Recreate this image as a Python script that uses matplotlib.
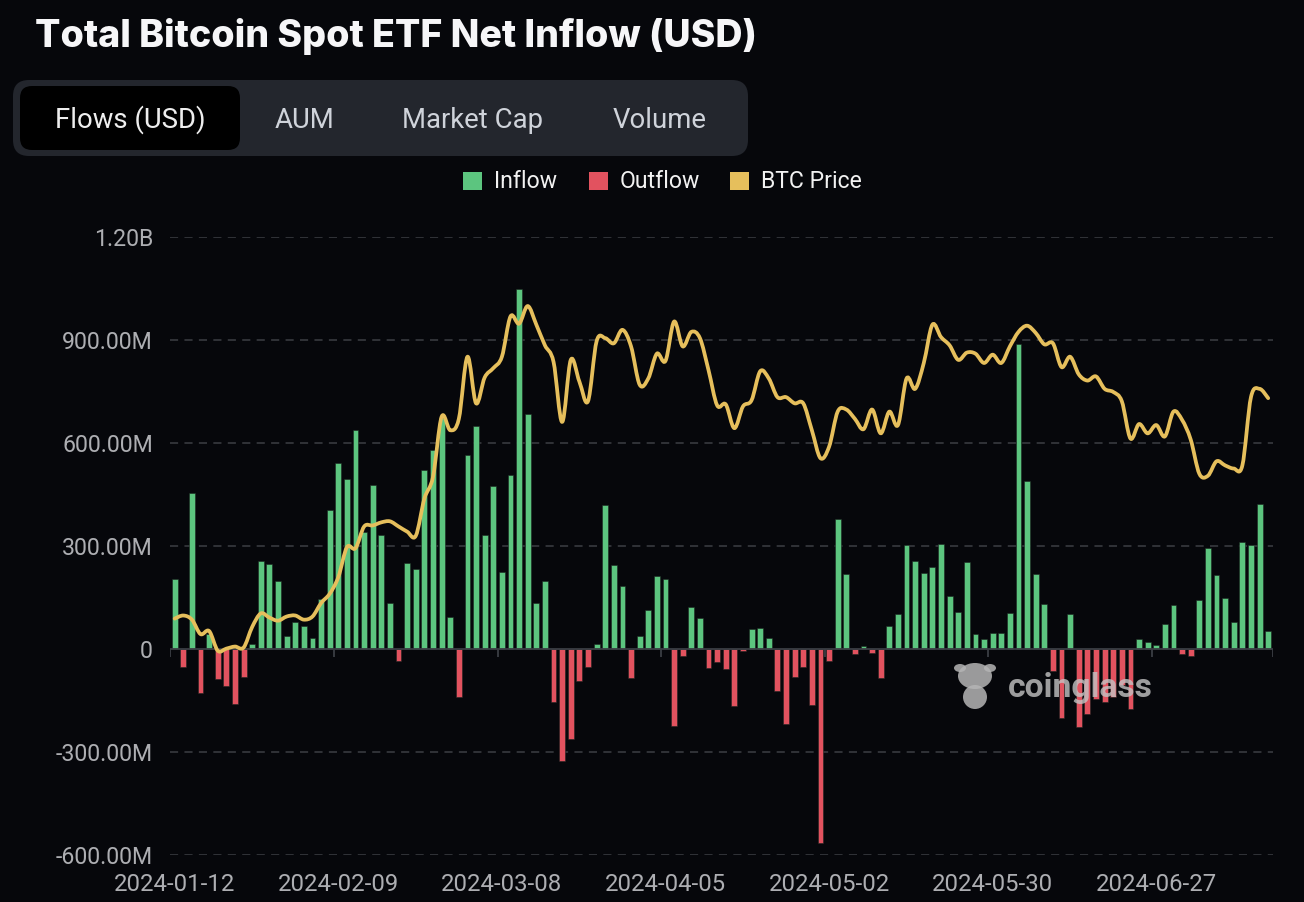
import numpy as np
import matplotlib.pyplot as plt
from matplotlib.patches import FancyBboxPatch, Rectangle, Ellipse, PathPatch
from matplotlib.path import Path
from matplotlib.transforms import IdentityTransform

# Data: one value per trading day, 2024-01-12 .. 2024-07-17
tick_labels = ['2024-01-12', '2024-02-09', '2024-03-08', '2024-04-05',
               '2024-05-02', '2024-05-30', '2024-06-27']

# net flow in million USD
flows_musd = [
    203, -53, 454, -127, 43, -87, -107, -159, -81, 14,
    255, 247, 197, 38, 80, 67, 33, 146, 406, 543,
    494, 637, 340, 478, 331, 135, -36, 251, 232, 521,
    579, 673, 92, -140, 564, 650, 332, 474, 223, 507,
    1048, 684, 133, 199, -155, -326, -263, -94, -52, 15,
    418, 244, 183, -85, 39, 114, 214, 203, -224, -19,
    123, 90, -56, -37, -59, -167, -5, 59, 61, 31,
    -122, -219, -83, -52, -162, -566, -35, 379, 218, -16,
    10, -11, -85, 66, 101, 304, 257, 222, 238, 306,
    154, 107, 252, 44, 28, 48, 48, 105, 889, 489,
    218, 131, -65, -201, 101, -227, -190, -147, -153, -140,
    -106, -175, 30, 20, 11, 73, 129, -14, -21, 143,
    295, 216, 148, 79, 311, 302, 423, 52,
]

# BTC price in USD
btc_price = [
    42800, 43100, 42700, 41300, 41600, 39700, 39900, 40100, 40000, 42000,
    43300, 42900, 42600, 43000, 43100, 42700, 43000, 44300, 45200, 46800,
    49700, 49600, 51700, 51800, 52100, 52200, 51700, 51200, 50800, 54400,
    56500, 62300, 61000, 62100, 68100, 63600, 66100, 67000, 68100, 72000,
    71300, 73000, 71200, 69200, 67600, 61800, 67800, 65700, 63800, 69600,
    69900, 69400, 70700, 69100, 65400, 66000, 68400, 67700, 71500, 69100,
    70500, 69900, 66800, 63400, 63500, 61200, 63300, 63900, 66700, 66000,
    64200, 64200, 63600, 63600, 61000, 58300, 59400, 62800, 63000, 62100,
    61100, 63000, 60700, 62800, 61500, 66000, 65000, 67500, 71200, 70000,
    69200, 67800, 68500, 68400, 67500, 68300, 67500, 69100, 70500, 71100,
    70400, 69300, 69400, 67100, 68100, 66400, 65800, 66200, 65000, 64700,
    63800, 60200, 61600, 60700, 61500, 60400, 62800, 62000, 60100, 56800,
    56600, 58000, 57600, 57300, 57600, 64200, 65000, 64100,
]

W, H = 1304, 902
BG = '#06070b'
GREEN = '#5cc57f'
RED = '#e2525f'
GOLD = '#e6bf5c'
GRID = '#34363b'
AXIS_TXT = '#adaeb2'

fig = plt.figure(figsize=(W / 100, H / 100), dpi=100, facecolor=BG)
px = IdentityTransform()


def box(x0, y0, x1, y1, r, color):
    p = FancyBboxPatch((x0, H - y1), x1 - x0, y1 - y0,
                       boxstyle=f'round,pad=0,rounding_size={r}',
                       transform=px, fc=color, ec='none')
    fig.add_artist(p)


def label(x, y, s, **kw):
    return fig.text(x, H - y, s, transform=px, **kw)


def fit(t, width):
    r = fig.canvas.get_renderer()
    w = t.get_window_extent(r).width
    t.set_fontsize(t.get_fontsize() * width / w)


# Header
title = label(35, 47, 'Total Bitcoin Spot ETF Net Inflow (USD)', color='#f6f6f8',
              fontsize=24, family='Inter', weight='heavy', va='baseline')
fit(title, 720)

box(13, 80, 748, 156, 16, '#23262d')
box(20, 86, 240, 150, 12, '#000000')
tabs = [('Flows (USD)', 130, '#eeeeee'), ('AUM', 304, '#cfd3da'),
        ('Market Cap', 473, '#cfd3da'), ('Volume', 660, '#cfd3da')]
tab_txt = []
for s, cx, c in tabs:
    tab_txt.append(label(cx, 128, s, color=c, fontsize=19, family='Roboto',
                         ha='center', va='baseline'))
fit(tab_txt[2], 141)
for t in tab_txt:
    t.set_fontsize(tab_txt[2].get_fontsize())

# Legend
legend_items = [(463, 494, 'Inflow', GREEN), (589, 620, 'Outflow', RED),
                (730, 761, 'BTC Price', GOLD)]
leg_txt = []
for sx, tx, s, c in legend_items:
    fig.add_artist(Rectangle((sx, H - 190), 19, 18, transform=px, fc=c, ec='none'))
    leg_txt.append(label(tx, 188, s, color='#f2f2f2', fontsize=15,
                         family='Roboto', va='baseline'))
fit(leg_txt[2], 101)
for t in leg_txt:
    t.set_fontsize(leg_txt[2].get_fontsize())

# Main chart
n = len(flows_musd)
x = np.arange(n)
vals = np.array(flows_musd) * 1e6
ax = fig.add_axes([170.4 / W, 1 - 855 / H, (1272.5 - 170.4) / W, (855 - 237) / H])
ax.set_facecolor(BG)
ax.bar(x, vals, width=0.68, color=np.where(vals >= 0, GREEN, RED),
       edgecolor='#1c2420', linewidth=0.4, zorder=3)
ax.set_xlim(-0.5, n - 0.5)
ax.set_ylim(-600e6, 1200e6)

yticks = [-600e6, -300e6, 0, 300e6, 600e6, 900e6, 1200e6]
ylabels = ['-600.00M', '-300.00M', '0', '300.00M', '600.00M', '900.00M', '1.20B']
for v in yticks:
    if v != 0:
        ax.axhline(v, color=GRID, lw=1.3, ls=(0, (4.5, 3.5)), zorder=1)
ax.axhline(0, color='#3b3e44', lw=1.3, zorder=4)
ax.set_yticks(yticks, ylabels)
ax.set_xticks(x[::19], tick_labels)
ax.tick_params(axis='y', length=0, pad=12.5, labelsize=16.7, labelcolor=AXIS_TXT)
ax.tick_params(axis='x', length=0, pad=13, labelsize=17.2, labelcolor=AXIS_TXT)
for lab in ax.get_xticklabels() + ax.get_yticklabels():
    lab.set_family('Roboto')
bounds = np.append(np.arange(-0.5, n, 19), n - 0.5)
ax.vlines(bounds, -24e6, 0, color='#3b3e44', lw=1.3, zorder=4)
for sp in ax.spines.values():
    sp.set_visible(False)

# BTC price on hidden secondary axis, smooth curve through the points
ax2 = ax.twinx()
ax2.set_ylim(19960, 79670)
ax2.axis('off')
p = np.column_stack([x, np.array(btc_price, dtype=float)])
ext = np.vstack([p[0], p, p[-1]])
verts = [p[0]]
codes = [Path.MOVETO]
for i in range(n - 1):
    c1 = ext[i + 1] + (ext[i + 2] - ext[i]) / 6
    c2 = ext[i + 2] - (ext[i + 3] - ext[i + 1]) / 6
    verts += [c1, c2, p[i + 1]]
    codes += [Path.CURVE4] * 3
ax2.add_patch(PathPatch(Path(verts, codes), fc='none', ec=GOLD, lw=2.7,
                        capstyle='round', joinstyle='round', zorder=5))

# Watermark
for (cx, cy, w, h) in [(975, 676, 34, 26), (975, 697, 24, 24),
                       (960, 668, 12, 8), (990, 668, 12, 8)]:
    fig.add_artist(Ellipse((cx, H - cy), w, h, transform=px, fc='#b5b5b5',
                           ec='none', alpha=0.85))
wm = label(1008, 697, 'coinglass', color='#c4c4c4', alpha=0.8, fontsize=22,
           family='Roboto', weight='bold', va='baseline')
fit(wm, 145)

fig.savefig('out.png', dpi=100, facecolor=BG)
